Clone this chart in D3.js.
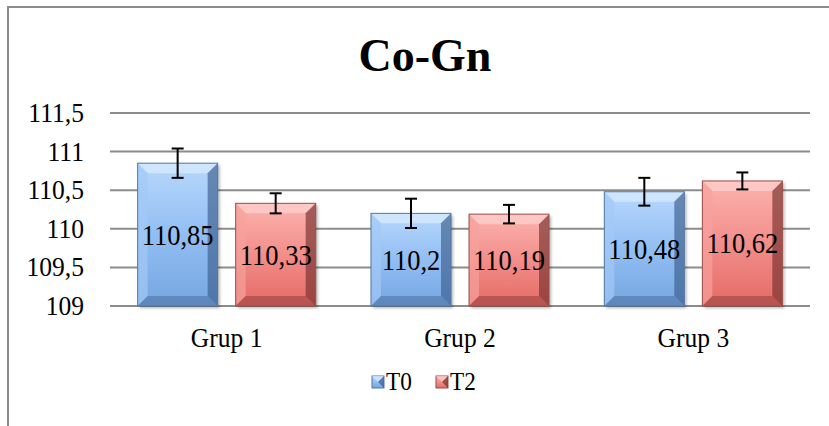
<!DOCTYPE html>
<html>
<head>
<meta charset="utf-8">
<script src="https://cdn.jsdelivr.net/npm/d3@7"></script>
<style>
  html, body { margin: 0; padding: 0; background: #fff; }
  svg { display: block; }
  svg text { font-family: "Liberation Serif", "Times New Roman", Times, "DejaVu Serif", serif; }
</style>
</head>
<body>
<svg id="chart" width="829" height="426"></svg>
<script>
const title = "Co-Gn";
const categories = ["Grup 1", "Grup 2", "Grup 3"];
const seriesNames = ["T0", "T2"];
const valuesT0 = [110.85, 110.2, 110.48];
const valuesT2 = [110.33, 110.19, 110.62];
const errT0 = [0.19, 0.19, 0.18];
const errT2 = [0.13, 0.12, 0.11];
const labelsT0 = ["110,85", "110,2", "110,48"];
const labelsT2 = ["110,33", "110,19", "110,62"];
const yTicks = [109, 109.5, 110, 110.5, 111, 111.5];
const yTickLabels = ["109", "109,5", "110", "110,5", "111", "111,5"];

const svg = d3.select("#chart");
const K = 0.93; // horizontal squeeze of text

// outer border
svg.append("rect").attr("x", 8).attr("y", 7).attr("width", 830).attr("height", 430)
  .attr("fill", "#fff").attr("stroke", "#8c8c8c").attr("stroke-width", 2);

const y = d3.scaleLinear().domain([109, 111.5]).range([306, 113]);
const x0 = d3.scaleBand().domain(categories).range([110, 810]).paddingInner(0.237).paddingOuter(0.1185);
const x1 = d3.scaleBand().domain(seriesNames).range([0, x0.bandwidth()]).paddingInner(0.184).paddingOuter(0);

// gridlines
svg.append("g").selectAll("line").data(yTicks).join("line")
  .attr("x1", 110).attr("x2", 810)
  .attr("y1", d => y(d)).attr("y2", d => y(d))
  .attr("stroke", "#8c8c8c").attr("stroke-width", 2);

// y labels
svg.append("g").selectAll("text").data(yTicks).join("text")
  .attr("transform", d => `translate(84,${y(d) + 9}) scale(${K},1)`)
  .attr("text-anchor", "end")
  .attr("font-size", 27.5)
  .text((d, i) => yTickLabels[i]);

// title
svg.append("text").attr("x", 425).attr("y", 71).attr("text-anchor", "middle")
  .attr("font-size", 46).attr("font-weight", "bold")
  .text(title);

// category labels
svg.append("g").selectAll("text").data(categories).join("text")
  .attr("transform", d => `translate(${x0(d) + x0.bandwidth() / 2},347) scale(${K},1)`)
  .attr("text-anchor", "middle")
  .attr("font-size", 27.5)
  .text(d => d);

const palettes = {
  T0: { top: "#b8d8fc", mid: "#92bef3", bot: "#76a6e0", light: "#d2e7fe", left: "#a2c9f6", right: "#3b5e8c", bottom: "#45699a", edge: "#52779f" },
  T2: { top: "#fcb3af", mid: "#f28e8a", bot: "#e46a65", light: "#fdcbc8", left: "#f6a19d", right: "#752f2c", bottom: "#8c3c39", edge: "#9a4d49" }
};

const defs = svg.append("defs");
Object.entries(palettes).forEach(([k, p]) => {
  const g = defs.append("linearGradient").attr("id", "grad" + k).attr("x1", 0).attr("y1", 0).attr("x2", 0).attr("y2", 1);
  g.append("stop").attr("offset", "0%").attr("stop-color", p.top);
  g.append("stop").attr("offset", "50%").attr("stop-color", p.mid);
  g.append("stop").attr("offset", "100%").attr("stop-color", p.bot);
});
const sh = defs.append("filter").attr("id", "shadow").attr("x", "-20%").attr("y", "-20%").attr("width", "140%").attr("height", "140%");
sh.append("feDropShadow").attr("dx", 2).attr("dy", 2).attr("stdDeviation", 1.5).attr("flood-color", "#000").attr("flood-opacity", 0.3);

const data = [];
categories.forEach((c, i) => {
  data.push({ cat: c, s: "T0", v: valuesT0[i], e: errT0[i], label: labelsT0[i] });
  data.push({ cat: c, s: "T2", v: valuesT2[i], e: errT2[i], label: labelsT2[i] });
});

const bars = svg.append("g").selectAll("g").data(data).join("g");
const bv = 10;
bars.each(function(d) {
  const g = d3.select(this);
  const p = palettes[d.s];
  const xl = x0(d.cat) + x1(d.s), w = x1.bandwidth();
  const yt = y(d.v), yb = y(109);
  const xr = xl + w;
  g.append("rect").attr("x", xl).attr("y", yt).attr("width", w).attr("height", yb - yt)
    .attr("fill", `url(#grad${d.s})`).attr("filter", "url(#shadow)");
  // bevels
  g.append("polygon").attr("points", [[xl, yt], [xr, yt], [xr - bv, yt + bv], [xl + bv, yt + bv]].join(" "))
    .attr("fill", p.light).attr("opacity", 0.85);
  g.append("polygon").attr("points", [[xl, yt], [xl + bv, yt + bv], [xl + bv, yb - bv], [xl, yb]].join(" "))
    .attr("fill", p.left).attr("opacity", 0.7);
  g.append("polygon").attr("points", [[xr, yt], [xr, yb], [xr - bv, yb - bv], [xr - bv, yt + bv]].join(" "))
    .attr("fill", p.right).attr("opacity", 0.65);
  g.append("polygon").attr("points", [[xl, yb], [xl + bv, yb - bv], [xr - bv, yb - bv], [xr, yb]].join(" "))
    .attr("fill", p.bottom).attr("opacity", 0.5);
  g.append("rect").attr("x", xl).attr("y", yt).attr("width", w).attr("height", yb - yt)
    .attr("fill", "none").attr("stroke", p.edge).attr("stroke-width", 1);
  // label
  g.append("text")
    .attr("transform", `translate(${xl + w / 2},${(yt + yb) / 2 + 10}) scale(${K},1)`)
    .attr("text-anchor", "middle").attr("font-size", 28.5)
    .text(d.label);
  // error bar
  const cx = xl + w / 2;
  const e1 = y(d.v + d.e), e2 = y(d.v - d.e);
  g.append("line").attr("x1", cx).attr("x2", cx).attr("y1", e1).attr("y2", e2).attr("stroke", "#000").attr("stroke-width", 2);
  g.append("line").attr("x1", cx - 6).attr("x2", cx + 6).attr("y1", e1).attr("y2", e1).attr("stroke", "#000").attr("stroke-width", 2);
  g.append("line").attr("x1", cx - 6).attr("x2", cx + 6).attr("y1", e2).attr("y2", e2).attr("stroke", "#000").attr("stroke-width", 2);
});

// legend
const legX = [372, 436];
const leg = svg.append("g").selectAll("g").data(seriesNames).join("g")
  .attr("transform", (d, i) => `translate(${legX[i]},376)`);
leg.append("rect").attr("width", 12).attr("height", 12).attr("fill", d => `url(#grad${d})`)
  .attr("stroke", d => palettes[d].edge);
leg.append("polygon").attr("points", "0,0 12,0 6,6").attr("fill", d => palettes[d].light).attr("opacity", 0.8);
leg.append("polygon").attr("points", "12,0 12,12 6,6").attr("fill", d => palettes[d].right).attr("opacity", 0.7);
leg.append("text").attr("transform", `translate(14,14) scale(${K},1)`).attr("font-size", 25).text(d => d);
</script>
</body>
</html>
